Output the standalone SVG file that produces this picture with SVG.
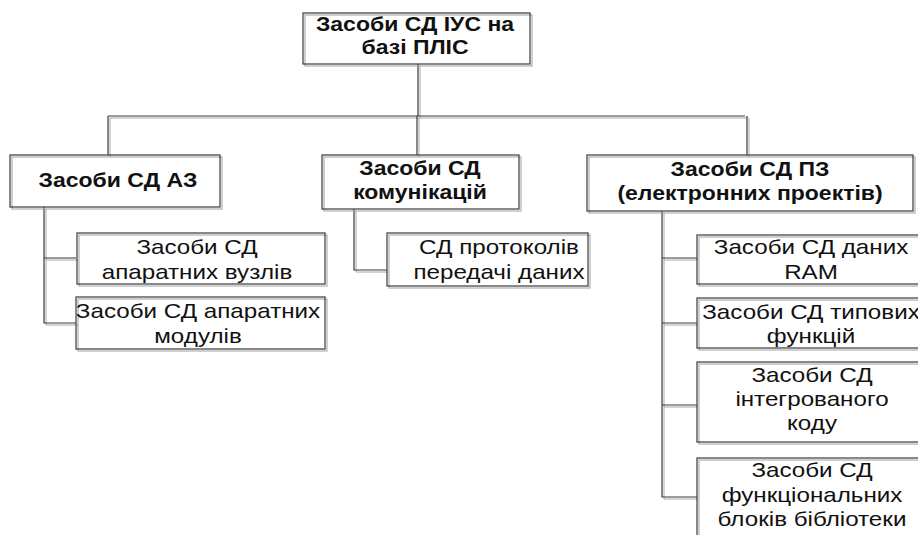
<svg xmlns="http://www.w3.org/2000/svg" width="918" height="535" viewBox="0 0 918 535">
<style>
.sh{fill:none;stroke:#a0a0a0;stroke-width:1}
.bx{fill:none;stroke:#3a3a3a;stroke-width:1.2}
.ln{fill:none;stroke:#3a3a3a;stroke-width:1.2}
.ls{fill:none;stroke:#a8a8a8;stroke-width:1}
text{font-family:"Liberation Sans",Arial,sans-serif;text-anchor:middle;dominant-baseline:central;fill:#111}
.b{font-weight:bold;font-size:19.5px}
.r{font-size:20.5px}
</style>
<rect width="918" height="535" fill="#fff"/>
<g id="connectors">
<path class="ls" d="M420,66 V118 M110,118 H747 M110,118 V157 M419,118 V157 M749,118 V157"/>
<path class="ln" d="M418,64 V116 M108,116 H745 M108,116 V155 M417,116 V155 M747,116 V155"/>
<path class="ls" d="M46,209 V325 H78 M46,260 H78 M356,211 V272 H388 M664,213 V499 H698 M664,260 H698 M664,325 H698 M664,407 H698"/>
<path class="ln" d="M44,207 V323 H76 M44,258 H76 M354,209 V270 H387 M662,211 V497 H697 M662,258 H697 M662,323 H697 M662,405 H697"/>
</g>
<g id="root">
<rect class="sh" x="305" y="15" width="227" height="51"/>
<rect class="bx" x="303" y="13" width="227" height="51"/>
<text class="b" transform="translate(415,25) scale(1.18,1)"><tspan x="0" y="0">Засоби СД ІУС на</tspan><tspan x="0" y="23">базі ПЛІС</tspan></text>
</g>
<g id="az">
<rect class="sh" x="12" y="157" width="210" height="52"/>
<rect class="bx" x="10" y="155" width="210" height="52"/>
<text class="b" transform="translate(118,181) scale(1.18,1)">Засоби СД АЗ</text>
</g>
<g id="az1">
<rect class="sh" x="79" y="235" width="248" height="51"/>
<rect class="bx" x="77" y="233" width="248" height="51"/>
<text class="r" transform="translate(197,247) scale(1.18,1)"><tspan x="0" y="0">Засоби СД</tspan><tspan x="0" y="25">апаратних вузлів</tspan></text>
</g>
<g id="az2">
<rect class="sh" x="78" y="299" width="249" height="52"/>
<rect class="bx" x="76" y="297" width="249" height="52"/>
<text class="r" transform="translate(198,311) scale(1.18,1)"><tspan x="0" y="0">Засоби СД апаратних</tspan><tspan x="0" y="25">модулів</tspan></text>
</g>
<g id="comm">
<rect class="sh" x="324" y="157" width="197" height="54"/>
<rect class="bx" x="322" y="155" width="197" height="54"/>
<text class="b" transform="translate(420,169) scale(1.18,1)"><tspan x="0" y="0">Засоби СД</tspan><tspan x="0" y="24">комунікацій</tspan></text>
</g>
<g id="comm1">
<rect class="sh" x="389" y="235" width="201" height="53"/>
<rect class="bx" x="387" y="233" width="201" height="53"/>
<text class="r" transform="translate(499,247) scale(1.18,1)"><tspan x="0" y="0">СД протоколів</tspan><tspan x="0" y="25">передачі даних</tspan></text>
</g>
<g id="pz">
<rect class="sh" x="589" y="157" width="326" height="56"/>
<rect class="bx" x="587" y="155" width="326" height="56"/>
<text class="b" transform="translate(750,170) scale(1.18,1)"><tspan x="0" y="0">Засоби СД ПЗ</tspan><tspan x="0" y="24">(електронних проектів)</tspan></text>
</g>
<g id="pz1">
<rect class="sh" x="699" y="237" width="240" height="49"/>
<rect class="bx" x="697" y="235" width="240" height="49"/>
<text class="r" transform="translate(811,247) scale(1.18,1)"><tspan x="0" y="0">Засоби СД даних</tspan><tspan x="0" y="25">RAM</tspan></text>
</g>
<g id="pz2">
<rect class="sh" x="699" y="300" width="240" height="50"/>
<rect class="bx" x="697" y="298" width="240" height="50"/>
<text class="r" transform="translate(811,311.5) scale(1.18,1)"><tspan x="0" y="0">Засоби СД типових</tspan><tspan x="0" y="24">функцій</tspan></text>
</g>
<g id="pz3">
<rect class="sh" x="699" y="364" width="240" height="80"/>
<rect class="bx" x="697" y="362" width="240" height="80"/>
<text class="r" transform="translate(812,375) scale(1.18,1)"><tspan x="0" y="0">Засоби СД</tspan><tspan x="0" y="24">інтегрованого</tspan><tspan x="0" y="48">коду</tspan></text>
</g>
<g id="pz4">
<rect class="sh" x="699" y="460" width="240" height="90"/>
<rect class="bx" x="697" y="458" width="240" height="90"/>
<text class="r" transform="translate(812,470) scale(1.18,1)"><tspan x="0" y="0">Засоби СД</tspan><tspan x="0" y="24.5">функціональних</tspan><tspan x="0" y="49">блоків бібліотеки</tspan></text>
</g>
</svg>
